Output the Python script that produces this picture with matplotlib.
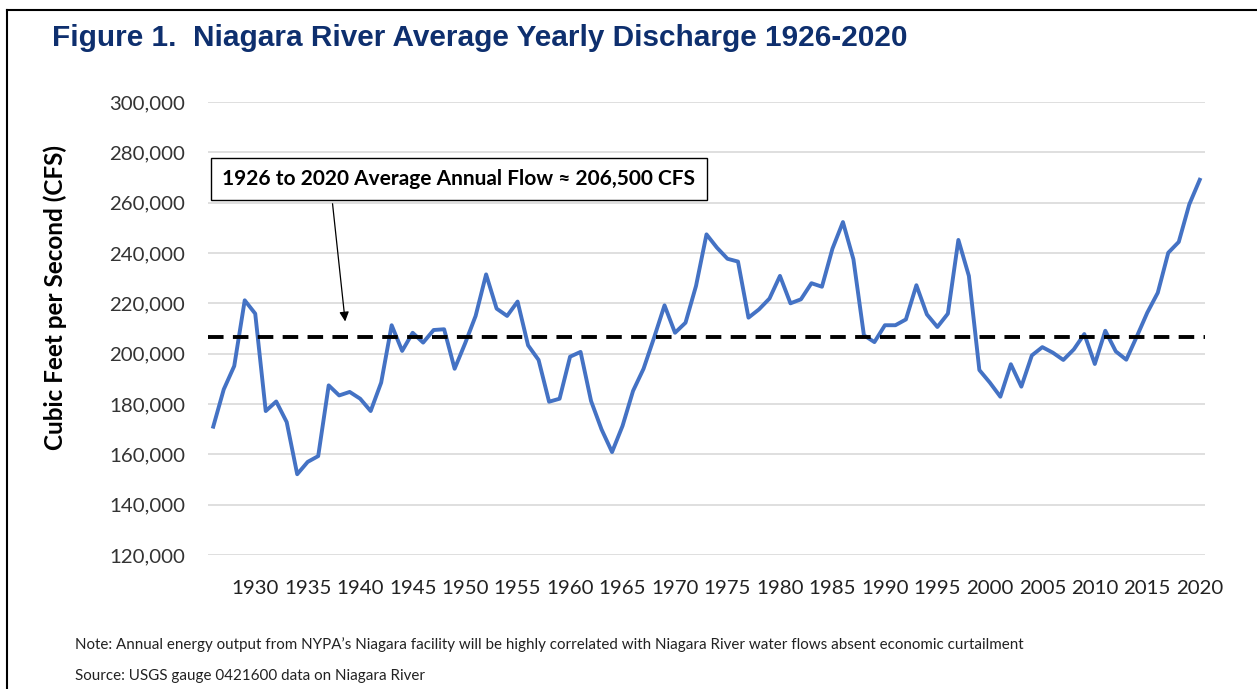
import numpy as np
import matplotlib.pyplot as plt
from matplotlib.lines import Line2D

# yearly average discharge (CFS)
years = np.arange(1926, 2021)
flow = [171000, 185800, 195100, 221200, 215900, 177200, 181000, 172800, 152100, 157000,
        159300, 187400, 183400, 184800, 182100, 177200, 188500, 211300, 201100, 208300,
        204400, 209400, 209700, 194000, 204100, 215000, 231500, 217900, 215000, 220700,
        203300, 197500, 180900, 182100, 198800, 200700, 181200, 169900, 160900, 171300,
        185200, 194000, 206300, 219200, 208300, 212300, 226900, 247400, 242100, 237700,
        236600, 214300, 217600, 221900, 230900, 220000, 221600, 228000, 226600, 241700,
        252300, 237500, 207300, 204600, 211300, 211300, 213600, 227200, 215600, 210600,
        215900, 245200, 230900, 193500, 188500, 182900, 195800, 186900, 199300, 202600,
        200400, 197500, 201700, 207800, 195900, 209100, 200900, 197600, 206800, 216300,
        224200, 240100, 244400, 259300, 269100]
avg_flow = 206500
xtick_years = list(range(1930, 2021, 5))
yticks = list(range(120000, 300001, 20000))

W, H = 1257, 689
fig = plt.figure(figsize=(W / 100, H / 100), dpi=100)

ax = fig.add_axes([208 / W, (H - 555) / H, (1205 - 208) / W, (555 - 102) / H])
ax.plot(years, flow, color='#4472C4', linewidth=2.8, solid_joinstyle='round', zorder=3)
ax.axhline(avg_flow, color='black', linewidth=2.8, linestyle=(0, (4, 2.4)), zorder=4)

ax.set_xlim(1925.5, 2020.5)
ax.set_ylim(120000, 300000)
ax.set_yticks(yticks)
ax.set_yticklabels([f'{v:,}' for v in yticks], fontsize=14.7, color='#333333', family='Lato')
ax.set_xticks(xtick_years)
ax.set_xticklabels([str(y) for y in xtick_years], fontsize=14.7, color='#222222', family='Lato')
ax.tick_params(length=0)
ax.tick_params(axis='y', pad=16.5)
ax.tick_params(axis='x', pad=18)
ax.grid(axis='y', color='#d9d9d9', linewidth=1.2)
ax.set_axisbelow(True)
for s in ax.spines.values():
    s.set_visible(False)

fig.text(55 / W, 1 - 297 / H, 'Cubic Feet per Second (CFS)', fontsize=17.5,
         fontweight='bold', family='Lato', rotation=90, va='center', ha='center')

ax.annotate('1926 to 2020 Average Annual Flow \u2248 206,500 CFS',
            xy=(1938.6, 211700), xytext=(1926.85, 269400),
            fontsize=15, fontweight='bold', family='Lato', va='center', ha='left',
            bbox=dict(boxstyle='square,pad=0.55', fc='white', ec='black', lw=1),
            arrowprops=dict(arrowstyle='-|>', color='black', lw=0.9,
                            mutation_scale=14, relpos=(0.23, 0)),
            zorder=6)

fig.text(52 / W, 1 - 38 / H, 'Figure 1.  Niagara River Average Yearly Discharge 1926-2020',
         fontsize=21.4, fontweight='bold', color='#0E2F6E', family='Liberation Sans',
         va='center', ha='left')

fig.text(75 / W, 1 - 645 / H,
         'Note: Annual energy output from NYPA\u2019s Niagara facility will be highly correlated '
         'with Niagara River water flows absent economic curtailment',
         fontsize=10.9, family='Lato', va='center', ha='left', color='#222222')
fig.text(75 / W, 1 - 676 / H, 'Source: USGS gauge 0421600 data on Niagara River',
         fontsize=10.9, family='Lato', va='center', ha='left', color='#222222')

# frame around the figure (top and left edges visible)
fig.add_artist(Line2D([7 / W, 7 / W], [0, 1 - 10 / H], color='black', lw=1.5))
fig.add_artist(Line2D([7 / W, 1], [1 - 10 / H, 1 - 10 / H], color='black', lw=1.5))

fig.savefig('out.png', dpi=100)
